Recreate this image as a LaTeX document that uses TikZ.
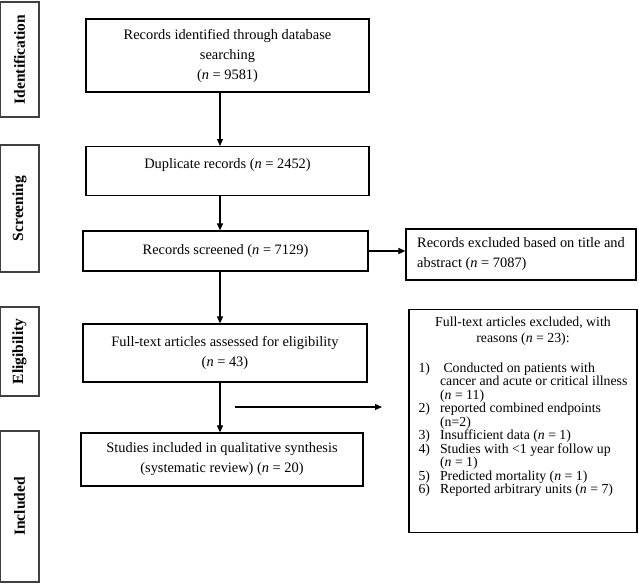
\documentclass[tikz,border=0pt]{standalone}
\usepackage{fontspec}
\setmainfont{Liberation Serif}
\usetikzlibrary{arrows.meta}

\tikzset{
    box/.style={draw, line width=1.2pt, inner sep=4pt, align=center,
        font=\fontsize{14.4}{20}\selectfont},
    sidebox/.style={draw=black!75, line width=1.2pt, rotate=90, minimum height=39pt,
        inner sep=0pt, font=\fontsize{15.5}{18}\selectfont\bfseries},
    arr/.style={-{Triangle[length=7pt,width=6pt]}, line width=1.1pt}
}

\begin{document}
\begin{tikzpicture}[x=1pt,y=-1pt]
    \useasboundingbox (0,0) rectangle (639,583);

    \foreach \n/\c/\len/\lab in {ident/59.5/115/Identification,screen/208.5/127/Screening,
        elig/351.5/89/Eligibility,incl/506.5/151/Included} {
    \node[sidebox, minimum width=\len pt] (\n) at (19.5,\c) {\lab};}

    \coordinate (spine) at (220,0);

    \node[box, minimum width=283pt, minimum height=73pt] (records) at (227.5,55.5)
        {Records identified through database\\searching\\(\textit{n} = 9581)};
    \node[box, minimum width=283pt, anchor=north, text height=18pt, text depth=23pt]
        (dups) at (227.5,146) {Duplicate records (\textit{n} = 2452)};
    \node[box, minimum width=285pt, minimum height=40pt] (screened) at (225.5,251)
        {Records screened (\textit{n} = 7129)};
    \node[box, minimum width=284pt, minimum height=58pt] (fulltext) at (225,353)
        {Full-text articles assessed for eligibility\\(\textit{n} = 43)};
    \node[box, minimum width=282pt, minimum height=53pt] (included) at (222,459.5)
        {Studies included in qualitative synthesis\\(systematic review) (\textit{n} = 20)};

    \node[box, align=left, minimum width=230pt, minimum height=51pt] (excl) at (521,254.5)
        {Records excluded based on title and\\abstract (\textit{n} = 7087)};
    \node[box, anchor=north, minimum width=228pt, text height=13pt, text depth=202pt,
        font=\fontsize{13.8}{12.8}\selectfont] (fullexcl) at (523,309)
        {\begin{tabular}[t]{@{}l@{\hspace{10pt}}l@{}}
        \multicolumn{2}{c}{Full-text articles excluded, with}\\[2pt]
        \multicolumn{2}{c}{reasons (\textit{n} = 23):}\\[17pt]
        1) & \ Conducted on patients with\\
           & cancer and acute or critical illness\\
           & (\textit{n} = 11)\\
        2) & reported combined endpoints\\
           & (n=2)\\
        3) & Insufficient data (\textit{n} = 1)\\
        4) & Studies with <1 year follow up\\
           & (\textit{n} = 1)\\
        5) & Predicted mortality (\textit{n} = 1)\\
        6) & Reported arbitrary units (\textit{n} = 7)
        \end{tabular}};

    \foreach \a/\b in {records/dups,dups/screened,screened/fulltext,fulltext/included} {
    \draw[arr] (\a.south -| spine) -- (\b.north -| spine);}

    \draw[arr] (screened.east) -- (screened.east -| excl.west);

    \coordinate (gapL) at (235,407);
    \coordinate (gapR) at (382,407);
    \draw[arr] (gapL) -- (gapR);

\end{tikzpicture}
\end{document}
